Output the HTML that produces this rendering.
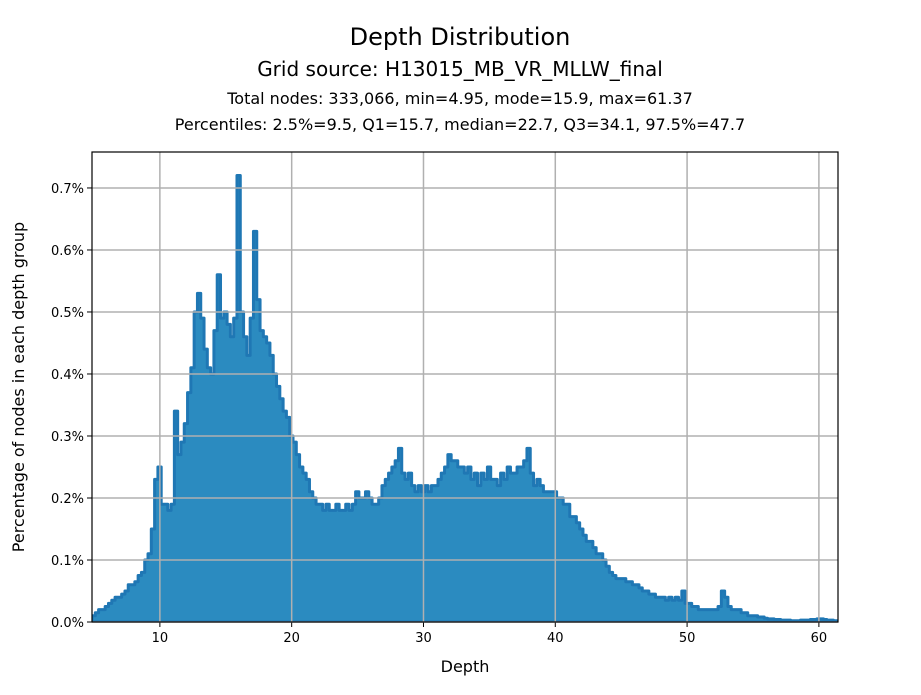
<!DOCTYPE html>
<html><head><meta charset="utf-8"><style>
body{margin:0;background:#fff;font-family:"DejaVu Sans","Liberation Sans",sans-serif}
svg text{font-family:"DejaVu Sans","Liberation Sans",sans-serif}
</style></head><body>
<svg id="chart" width="921" height="691" xmlns="http://www.w3.org/2000/svg">
<rect width="921" height="691" fill="#fff"/>
<text x="460" y="45" text-anchor="middle" font-size="24">Depth Distribution</text>
<text x="460" y="76" text-anchor="middle" font-size="20">Grid source: H13015_MB_VR_MLLW_final</text>
<text x="460" y="104" text-anchor="middle" font-size="16">Total nodes: 333,066, min=4.95, mode=15.9, max=61.37</text>
<text x="460" y="130" text-anchor="middle" font-size="16">Percentiles: 2.5%=9.5, Q1=15.7, median=22.7, Q3=34.1, 97.5%=47.7</text>
<g id="plot"></g>
<text x="465" y="672" text-anchor="middle" font-size="16">Depth</text>
<text transform="translate(24,387) rotate(-90)" text-anchor="middle" font-size="16">Percentage of nodes in each depth group</text>
</svg>
<script>
const binStart = 4.85;
const binWidth = 0.25;
const percentValues = [
.01,.015,.02,.02, .025,.03,.035,.04, .04,.045,.05,.06, .06,.065,.075,.08, .10,.11,.15,.23,
.25,.19,.19,.18, .19,.34,.27,.29, .32,.37,.41,.50, .53,.49,.44,.41, .40,.47,.56,.49,
.50,.48,.46,.49, .72,.50,.46,.43, .49,.63,.52,.47, .46,.45,.43,.40, .38,.36,.34,.33,
.30,.29,.27,.25, .24,.23,.21,.20, .19,.19,.18,.19, .18,.18,.19,.18, .18,.19,.18,.19,
.21,.20,.20,.21, .20,.19,.19,.20, .22,.23,.24,.25, .26,.28,.24,.23, .24,.22,.21,.22,
.21,.22,.21,.22, .22,.23,.24,.25, .27,.26,.26,.25, .25,.24,.25,.23, .24,.22,.24,.23,
.25,.23,.23,.22, .24,.23,.25,.24, .24,.25,.25,.26, .28,.24,.22,.23, .22,.21,.21,.21,
.21,.20,.20,.19, .19,.17,.17,.16, .15,.14,.13,.13, .12,.11,.11,.10, .09,.08,.075,.07,
.07,.07,.065,.065, .06,.06,.055,.05, .05,.045,.045,.04, .04,.04,.035,.04, .035,.04,.035,.05,
.03,.03,.025,.025, .02,.02,.02,.02, .02,.02,.025,.05, .04,.025,.02,.02, .02,.015,.015,.01,
.01,.01,.008,.008, .006,.005,.005,.004, .004,.003,.003,.003, .002,.002,.002,.003, .003,.003,.004,.004,
.005,.005,.004,.003, .003,.002
];
const xTicks = [10,20,30,40,50,60];
const yTicks = [0,0.1,0.2,0.3,0.4,0.5,0.6,0.7];
const yTickLabels = ["0.0%","0.1%","0.2%","0.3%","0.4%","0.5%","0.6%","0.7%"];

const L=92,R=838,T=152,B=622, xMin=4.85,xMax=61.45,yMax=0.758;
const X=v=>L+(v-xMin)/(xMax-xMin)*(R-L);
const Y=v=>B-v/yMax*(B-T);
const NS="http://www.w3.org/2000/svg";
const g=document.getElementById('plot');
function mk(tag,attrs){const e=document.createElementNS(NS,tag);for(const k in attrs)e.setAttribute(k,attrs[k]);g.appendChild(e);return e;}
const cp=mk('clipPath',{id:'clip'});const cr=document.createElementNS(NS,'rect');
cr.setAttribute('x',L);cr.setAttribute('y',T);cr.setAttribute('width',R-L);cr.setAttribute('height',B-T);cp.appendChild(cr);
let d='M'+X(binStart)+','+Y(0);
percentValues.forEach((v,i)=>{const x0=X(binStart+i*binWidth),x1=X(binStart+(i+1)*binWidth);d+=' L'+x0+','+Y(v)+' L'+x1+','+Y(v);});
d+=' L'+X(binStart+percentValues.length*binWidth)+','+Y(0)+' Z';
const area=mk('path',{d:d,fill:'#2b8bc0',stroke:'#1f77b4','stroke-width':3,'stroke-linejoin':'round','clip-path':'url(#clip)'});


xTicks.forEach(t=>{
 const ln=mk('line',{x1:X(t),x2:X(t),y1:T,y2:B,stroke:'#b0b0b0','stroke-width':1.5});
 
 
 mk('line',{x1:X(t),x2:X(t),y1:B,y2:B+5,stroke:'#000'});
 const tx=mk('text',{x:X(t),y:B+20,'text-anchor':'middle','font-size':13});tx.textContent=t;
 
 
});
yTicks.forEach((t,i)=>{
 const ln=mk('line',{x1:L,x2:R,y1:Y(t),y2:Y(t),stroke:'#b0b0b0','stroke-width':1.5});
 
 
 mk('line',{x1:L-5,x2:L,y1:Y(t),y2:Y(t),stroke:'#000'});
 const tx=mk('text',{x:L-8,y:Y(t)+5,'text-anchor':'end','font-size':13});tx.textContent=yTickLabels[i];
 
 
});
const fr=mk('rect',{x:L,y:T,width:R-L,height:B-T,fill:'none',stroke:'#000','stroke-width':1.2});


</script>
</body></html>
